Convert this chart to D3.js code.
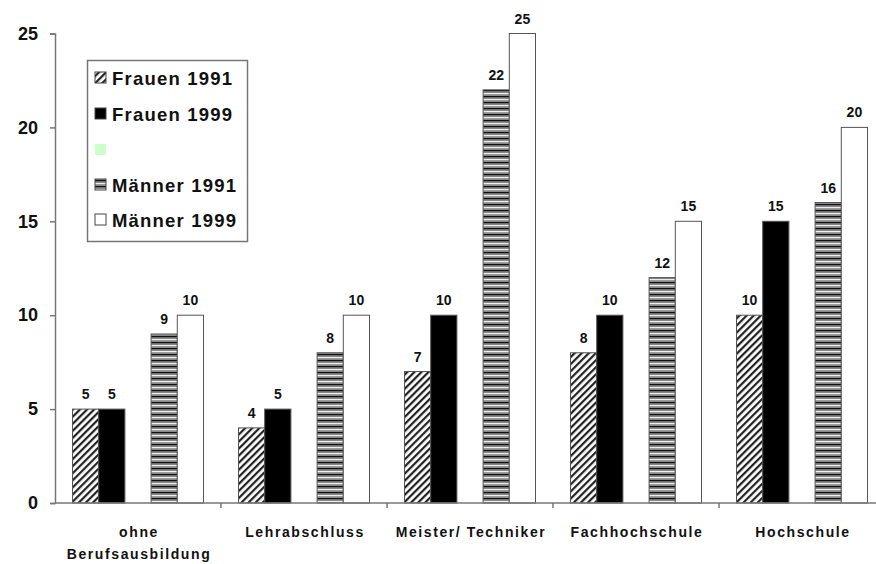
<!DOCTYPE html>
<html><head><meta charset="utf-8">
<script src="https://cdn.jsdelivr.net/npm/d3@7"></script>
<style>
html,body{margin:0;padding:0;background:#fff;}
text{font-family:"Liberation Sans",Arial,sans-serif;font-weight:bold;fill:#111;}
</style></head>
<body>
<svg id="chart" width="876" height="564"></svg>
<script>
const categories = [["ohne","Berufsausbildung"],["Lehrabschluss"],["Meister/ Techniker"],["Fachhochschule"],["Hochschule"]];
const seriesNames = ["Frauen 1991","Frauen 1999","","Männer 1991","Männer 1999"];
const frauen1991 = [5,4,7,8,10];
const frauen1999 = [5,5,10,10,15];
const leer = [null,null,null,null,null];
const maenner1991 = [9,8,22,12,16];
const maenner1999 = [10,10,25,15,20];
const yTicks = [0,5,10,15,20,25];

const seriesValues = [frauen1991, frauen1999, leer, maenner1991, maenner1999];
const fills = ["url(#hatch)","#000","#ccffcc","url(#stripes)","#fff"];

const svg = d3.select("#chart");
const defs = svg.append("defs");
const hatch = defs.append("pattern").attr("id","hatch").attr("patternUnits","userSpaceOnUse")
  .attr("width",5).attr("height",5).attr("patternTransform","rotate(45)");
hatch.append("rect").attr("width",5).attr("height",5).attr("fill","#fff");
hatch.append("rect").attr("x",0).attr("width",2.2).attr("height",5).attr("fill","#222");
const stripes = defs.append("pattern").attr("id","stripes").attr("patternUnits","userSpaceOnUse")
  .attr("width",10).attr("height",6);
stripes.append("rect").attr("width",10).attr("height",6).attr("fill","#888");
stripes.append("rect").attr("y",0).attr("width",10).attr("height",1.2).attr("fill","#111");
stripes.append("rect").attr("y",3).attr("width",10).attr("height",1.2).attr("fill","#eee");

const x0 = d3.scaleBand().domain(d3.range(categories.length)).range([55, 885]);
const x1 = d3.scaleBand().domain(d3.range(seriesNames.length)).range([17.5, 148.5]);
const y = d3.scaleLinear().domain([0,25]).range([503, 33.5]);

// bars
categories.forEach((c, ci) => {
  seriesValues.forEach((vals, si) => {
    const v = vals[ci];
    if (v == null) return;
    const bx = x0(ci) + x1(si);
    svg.append("rect").attr("x", bx).attr("y", y(v)).attr("width", x1.bandwidth())
      .attr("height", y(0) - y(v)).attr("fill", fills[si])
      .attr("stroke", "#555").attr("stroke-width", 1);
    svg.append("text").attr("x", bx + x1.bandwidth()/2).attr("y", y(v) - 10)
      .attr("text-anchor","middle").attr("font-size", 14).text(v);
  });
});

// y axis
const yAxis = svg.append("g").attr("transform","translate(55,0)")
  .call(d3.axisLeft(y).tickValues(yTicks).tickSize(5).tickPadding(12));
yAxis.select(".domain").attr("stroke","#777").attr("stroke-width",1.5);
yAxis.selectAll(".tick line").attr("stroke","#777").attr("stroke-width",1.5);
yAxis.selectAll(".tick text").attr("font-size",18).attr("fill","#111")
  .style("font-family","'Liberation Sans',Arial,sans-serif").style("font-weight","bold");

// x axis
svg.append("line").attr("x1",55).attr("x2",876).attr("y1",y(0)).attr("y2",y(0))
  .attr("stroke","#777").attr("stroke-width",1.5);
d3.range(1, categories.length).forEach(i => {
  svg.append("line").attr("x1",x0(i)).attr("x2",x0(i)).attr("y1",y(0)).attr("y2",y(0)+5)
    .attr("stroke","#777").attr("stroke-width",1.5);
});
categories.forEach((c, ci) => {
  const t = svg.append("text").attr("text-anchor","middle").attr("font-size",14)
    .attr("letter-spacing",1.6);
  c.forEach((line, li) => {
    t.append("tspan").attr("x", x0(ci) + x0.bandwidth()/2 + 1).attr("y", 537 + li*22).text(line);
  });
});

// legend
const lg = svg.append("g");
lg.append("rect").attr("x",87.5).attr("y",60.5).attr("width",160).attr("height",181)
  .attr("fill","#fff").attr("stroke","#777").attr("stroke-width",1.5);
const legendY = [78,114,150,185,220];
seriesNames.forEach((n, i) => {
  lg.append("rect").attr("x",95).attr("y",legendY[i]-6).attr("width",11).attr("height",11)
    .attr("fill", fills[i]).attr("stroke", i===2 ? "none" : "#444").attr("stroke-width",1);
  if (n) lg.append("text").attr("x",112).attr("y",legendY[i]+6.5).attr("font-size",18.5)
    .attr("letter-spacing",1.2).text(n);
});
</script>
</body></html>
